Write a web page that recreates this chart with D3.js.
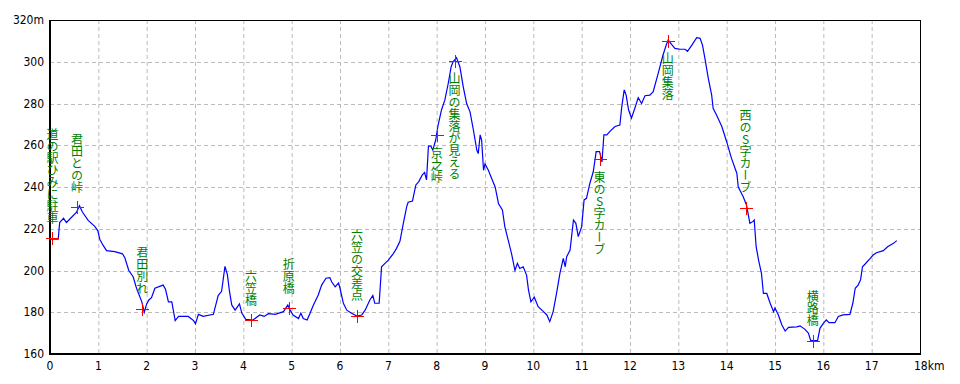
<!DOCTYPE html>
<html>
<head>
<meta charset="utf-8">
<script src="https://cdn.jsdelivr.net/npm/d3@7"></script>
<style>
  body { margin: 0; background: #fff; }
  svg { display: block; }
  .tick-label { font-family: "Liberation Sans Narrow", "DejaVu Sans Condensed", "Liberation Sans", sans-serif; font-size: 12px; fill: #000; }
  .mark-label { font-family: "Noto Sans CJK JP", sans-serif; font-size: 12px; fill: #008000; writing-mode: vertical-rl; text-orientation: upright; }
</style>
</head>
<body>
<svg id="chart"></svg>
<script>
// profile: distance (km) and elevation (m)
const distKm = [0.00,0.17,0.20,0.28,0.34,0.55,0.61,0.67,0.79,0.93,0.99,1.03,1.10,1.17,1.34,1.50,1.55,1.63,1.72,1.79,1.90,1.95,2.00,2.05,2.10,2.17,2.34,2.39,2.45,2.52,2.59,2.66,2.86,2.97,3.01,3.07,3.17,3.38,3.48,3.55,3.62,3.67,3.71,3.76,3.83,3.92,3.97,4.05,4.20,4.34,4.43,4.52,4.66,4.83,4.92,4.97,5.03,5.14,5.19,5.24,5.32,5.38,5.45,5.55,5.62,5.71,5.79,5.83,5.90,5.97,6.00,6.07,6.14,6.24,6.35,6.45,6.52,6.62,6.68,6.72,6.81,6.86,6.93,7.00,7.10,7.17,7.24,7.31,7.38,7.41,7.50,7.57,7.63,7.70,7.75,7.79,7.83,7.88,7.92,7.98,8.03,8.10,8.17,8.24,8.30,8.34,8.41,8.48,8.55,8.62,8.69,8.76,8.83,8.86,8.90,8.93,8.97,9.00,9.07,9.14,9.21,9.28,9.36,9.41,9.48,9.55,9.62,9.67,9.72,9.79,9.86,9.90,9.95,10.02,10.10,10.21,10.28,10.34,10.41,10.48,10.55,10.62,10.66,10.69,10.76,10.83,10.88,10.93,11.00,11.05,11.10,11.17,11.24,11.30,11.37,11.42,11.46,11.52,11.59,11.69,11.79,11.83,11.88,11.92,11.97,12.03,12.10,12.17,12.24,12.31,12.41,12.48,12.59,12.68,12.75,12.79,12.86,12.93,13.03,13.14,13.19,13.28,13.38,13.45,13.50,13.55,13.62,13.69,13.72,13.79,13.90,14.00,14.10,14.21,14.24,14.34,14.41,14.48,14.54,14.57,14.61,14.66,14.72,14.76,14.83,14.90,14.97,15.00,15.07,15.14,15.21,15.28,15.45,15.52,15.62,15.69,15.74,15.88,15.93,16.00,16.06,16.12,16.24,16.31,16.41,16.55,16.61,16.66,16.72,16.77,16.81,16.86,16.97,17.03,17.10,17.24,17.33,17.45,17.52];
const elevM = [215,215,223,225,223,228,231,228,224,221,219,215,212,209.5,209,208,206,200,197,191.5,185,180,184,186,187,191.5,193,191,185,185,176,178,178,176,174.5,179,178,179,188,190,202,198,190.6,183.5,181,184,179.5,176.6,176.3,178.7,178,179.3,179,180.3,183.5,181,178.7,177,179.5,177,176.3,179.5,183.5,188.3,193,196.3,196.6,194.5,192.2,194,191.5,184.3,181,179.5,178.2,178.7,181,186,188,184.3,184.3,201.8,203.4,205,208,210.6,214,222.6,230.6,232.7,233.3,241,242.6,245.7,247,243.4,259.6,259.6,257.7,262.5,269.7,276.9,281.7,289.7,297.6,300,302,297.6,288,280,276,267.3,257.7,256,265,262.5,248,251,248,244,240,232,229,221,214.6,208,200,203.4,201,201.8,197.8,190.6,185,187.2,182.7,180.3,178.7,175.5,180.3,189,198.6,205.8,201.8,206.6,209.8,224.2,222.6,216.2,221,233.8,234.6,241.8,247.3,256.9,256.9,252,265,265,266.8,269,269.7,278.5,286.5,284,277,273,277.7,282.8,280,283.7,284,285.7,295,303,308,310.4,308.3,306.4,306,306,305,308,311.5,311.2,308,301.6,292,284,277.7,274.5,269,261.7,253.7,246.6,240,235.4,231.4,222.6,223.4,224.2,211.4,205,198.6,189,189,184.3,180.3,182,178.7,174,171,172.8,173,173.5,171.8,170,166.4,166.4,172.3,174.7,176.3,175,175,178,178.7,179,184.3,191.5,193,195.5,201.8,203,205.8,207.4,208.5,209.5,211.4,213,214.3];

// waypoints
const markKm = [0.05, 0.56, 1.91, 4.16, 4.94, 6.35, 8.00, 8.37, 11.37, 12.78, 14.39, 15.78];
const markElev = [215.5, 230.4, 181.7, 176.3, 181.9, 178.3, 264.9, 300.5, 253.3, 310.1, 230.1, 166.4];
const markName = ["道の駅ひみに駐車", "君田との峠", "君田別れ", "六笠橋", "折原橋", "六笠の交差点", "京之峠", "山岡の集落が見える", "東のS字カーブ", "山岡集落", "西のS字カーブ", "横路橋"];
const markSide = ["up", "up", "up", "up", "up", "up", "down", "down", "down", "down", "up", "up"];

const xTicks = d3.range(0, 19);
const yTicks = d3.range(160, 321, 20);

const W = 960, H = 384;
const margin = {left: 50, top: 20, right: 40, bottom: 30};
const innerW = 870, innerH = 334;

const svg = d3.select("#chart").attr("width", W).attr("height", H);
const g = svg.append("g").attr("transform", "translate(" + margin.left + "," + margin.top + ")");

const x = d3.scaleLinear().domain([0, 18]).range([0, innerW]);
const y = d3.scaleLinear().domain([160, 320]).range([innerH, 0]);

// grid
g.selectAll(".vgrid")
  .data(xTicks.filter(d => d > 0 && d < 18))
  .enter().append("line")
  .attr("x1", d => x(d) + 0.5).attr("x2", d => x(d) + 0.5)
  .attr("y1", 0).attr("y2", innerH)
  .attr("stroke", "#bbb").attr("stroke-dasharray", "4,3");

g.selectAll(".hgrid")
  .data(yTicks.filter(d => d > 160 && d < 320))
  .enter().append("line")
  .attr("x1", 0).attr("x2", innerW)
  .attr("y1", d => Math.round(y(d)) + 0.5).attr("y2", d => Math.round(y(d)) + 0.5)
  .attr("stroke", "#bbb").attr("stroke-dasharray", "4,3");

// frame
g.append("rect")
  .attr("x", 0.5).attr("y", 0.5).attr("width", innerW).attr("height", innerH)
  .attr("fill", "none").attr("stroke", "#000");
g.append("line").attr("x1", 0).attr("x2", 0).attr("y1", 0).attr("y2", innerH + 1).attr("stroke", "#000").attr("stroke-width", 2);
g.append("line").attr("x1", 0).attr("x2", innerW + 1).attr("y1", innerH).attr("y2", innerH).attr("stroke", "#000").attr("stroke-width", 2);

// tick labels
g.selectAll(".xl")
  .data(xTicks)
  .enter().append("text")
  .attr("class", "tick-label")
  .attr("x", d => d === 18 ? x(d) - 6 : x(d))
  .attr("y", innerH + 16)
  .attr("text-anchor", d => d === 18 ? "start" : "middle")
  .text(d => d === 18 ? d + "km" : d);

g.selectAll(".yl")
  .data(yTicks)
  .enter().append("text")
  .attr("class", "tick-label")
  .attr("x", -6)
  .attr("y", d => y(d) + 4)
  .attr("text-anchor", "end")
  .text(d => d === 320 ? d + "m" : d);

// profile line
const profile = distKm.map((d, i) => [d, elevM[i]]);
g.append("path")
  .datum(profile)
  .attr("fill", "none")
  .attr("stroke", "#0000ff")
  .attr("stroke-width", 1.2)
  .attr("d", d3.line().x(d => x(d[0])).y(d => y(d[1])));

// waypoint labels
g.selectAll(".mark-label")
  .data(markName)
  .enter().append("text")
  .attr("class", "mark-label")
  .attr("x", (d, i) => x(markKm[i]))
  .attr("y", (d, i) => markSide[i] === "up" ? y(markElev[i]) - 14 : y(markElev[i]) + 12)
  .attr("text-anchor", (d, i) => markSide[i] === "up" ? "end" : "start")
  .text(d => d);

// waypoint crosses
const cross = g.selectAll(".cross")
  .data(markKm)
  .enter().append("g")
  .attr("transform", (d, i) => "translate(" + Math.round(x(d)) + "," + Math.round(y(markElev[i])) + ")");
cross.append("line").attr("x1", -6).attr("x2", 7).attr("y1", 0.5).attr("y2", 0.5).attr("stroke", "#ff0000");
cross.append("line").attr("x1", 0.5).attr("x2", 0.5).attr("y1", -6).attr("y2", 7).attr("stroke", "#ff0000");
</script>
</body>
</html>
